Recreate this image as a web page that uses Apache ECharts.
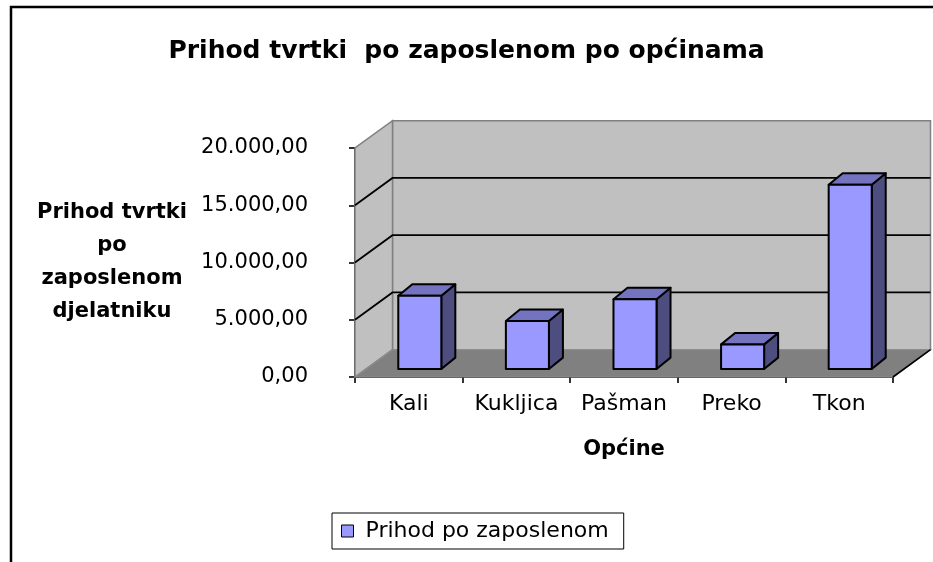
<!DOCTYPE html>
<html>
<head>
<meta charset="utf-8">
<script src="https://cdn.jsdelivr.net/npm/echarts@6/dist/echarts.min.js"></script>
<style>
  html, body { margin: 0; padding: 0; background: #fff; }
  #chart { width: 933px; height: 562px; }
</style>
</head>
<body>
<div id="chart"></div>
<script>
const categories = ['Kali', 'Kukljica', 'Pašman', 'Preko', 'Tkon'];
const values = [6400, 4200, 6100, 2150, 16100];
const yTicks = [0, 5000, 10000, 15000, 20000];
const yTickLabels = ['0,00', '5.000,00', '10.000,00', '15.000,00', '20.000,00'];

const FONT = 'DejaVu Sans';
// oblique depth of the plot box and of the bars
const DX = 37.5, DY = -27.3;
const BAR_DX = 14, BAR_DY = -11.4;
const BAR_OFF_X = 11, BAR_OFF_Y = -8;

function renderFrame(params, api) {
  const bw = api.size([1, 0])[0];
  const left = api.coord([0, 0])[0] - bw / 2;
  const right = api.coord([categories.length - 1, 0])[0] + bw / 2;
  const y0 = api.coord([0, yTicks[0]])[1];
  const yTop = api.coord([0, yTicks[yTicks.length - 1]])[1];
  const kids = [];
  // back wall
  kids.push({
    type: 'polygon',
    shape: { points: [[left + DX, y0 + DY], [right + DX, y0 + DY], [right + DX, yTop + DY], [left + DX, yTop + DY]] },
    style: { fill: '#C0C0C0', stroke: '#808080', lineWidth: 1.5 }
  });
  // left wall
  kids.push({
    type: 'polygon',
    shape: { points: [[left, y0], [left + DX, y0 + DY], [left + DX, yTop + DY], [left, yTop]] },
    style: { fill: '#C0C0C0', stroke: '#808080', lineWidth: 1.5 }
  });
  // floor
  kids.push({
    type: 'polygon',
    shape: { points: [[left, y0], [right, y0], [right + DX, y0 + DY], [left + DX, y0 + DY]] },
    style: { fill: '#808080', stroke: '#8c8c8c', lineWidth: 1.2 }
  });
  kids.push({
    type: 'line',
    shape: { x1: right, y1: y0, x2: right + DX, y2: y0 + DY },
    style: { stroke: '#000', lineWidth: 1.6 }
  });
  // gridlines on side and back wall
  yTicks.slice(1, -1).forEach(function (t) {
    const y = api.coord([0, t])[1];
    kids.push({
      type: 'polyline',
      shape: { points: [[left, y], [left + DX, y + DY], [right + DX, y + DY]] },
      style: { stroke: '#000', lineWidth: 1.8, fill: null }
    });
  });
  return { type: 'group', children: kids };
}

function renderBar(params, api) {
  const i = api.value(0);
  const base = api.coord([i, 0]);
  const top = api.coord([i, api.value(1)]);
  const w = api.size([1, 0])[0] * 0.4;
  const x0 = base[0] - w / 2 + BAR_OFF_X;
  const x1 = x0 + w;
  const yb = base[1] + BAR_OFF_Y;
  const yt = top[1] + BAR_OFF_Y;
  const line = { stroke: '#000', lineWidth: 2, lineJoin: 'round' };
  return {
    type: 'group',
    children: [
      {
        type: 'polygon',
        shape: { points: [[x1, yt], [x1 + BAR_DX, yt + BAR_DY], [x1 + BAR_DX, yb + BAR_DY], [x1, yb]] },
        style: Object.assign({ fill: '#4D4D80' }, line)
      },
      {
        type: 'polygon',
        shape: { points: [[x0, yt], [x1, yt], [x1 + BAR_DX, yt + BAR_DY], [x0 + BAR_DX, yt + BAR_DY]] },
        style: Object.assign({ fill: '#7373BF' }, line)
      },
      {
        type: 'rect',
        shape: { x: x0, y: yt, width: w, height: yb - yt },
        style: Object.assign({ fill: '#9999FF' }, line)
      }
    ]
  };
}

const chart = echarts.init(document.getElementById('chart'));
chart.setOption({
  animation: false,
  backgroundColor: '#fff',
  graphic: [{
    type: 'rect',
    z: -10,
    shape: { x: 11, y: 7, width: 1000, height: 1000 },
    style: { fill: 'none', stroke: '#000', lineWidth: 2.5 }
  }],
  title: {
    text: 'Prihod tvrtki  po zaposlenom po općinama',
    left: 'center',
    top: 34,
    textStyle: { fontFamily: FONT, fontWeight: 'bold', fontSize: 25, color: '#000' }
  },
  legend: {
    left: 332,
    top: 513,
    data: [{ name: 'Prihod po zaposlenom', icon: 'rect' }],
    itemWidth: 12,
    itemHeight: 12,
    borderColor: '#000',
    borderWidth: 1,
    padding: [7, 15, 7, 9],
    itemStyle: { borderColor: '#000', borderWidth: 1 },
    textStyle: { fontFamily: FONT, fontSize: 22, color: '#000', padding: [0, 0, 0, 7] }
  },
  grid: { left: 355, right: 40, top: 148, bottom: 185 },
  xAxis: {
    type: 'category',
    data: categories,
    name: 'Općine',
    nameLocation: 'middle',
    nameGap: 73,
    nameTextStyle: { fontFamily: FONT, fontWeight: 'bold', fontSize: 21, color: '#000', verticalAlign: 'middle' },
    axisLine: { lineStyle: { color: '#000', width: 1.6 } },
    axisTick: { show: true, length: 6, interval: 0, lineStyle: { color: '#000', width: 1.6 } },
    axisLabel: { interval: 0, hideOverlap: false, margin: 27, verticalAlign: 'middle', fontFamily: FONT, fontSize: 22, color: '#000' },
    splitLine: { show: false }
  },
  yAxis: {
    type: 'value',
    min: 0,
    max: 20000,
    interval: 5000,
    name: 'Prihod tvrtki\npo\nzaposlenom\ndjelatniku',
    nameLocation: 'middle',
    nameRotate: 0,
    nameGap: 243,
    nameTextStyle: { fontFamily: FONT, fontWeight: 'bold', fontSize: 21, lineHeight: 33, color: '#000', align: 'center', verticalAlign: 'middle' },
    axisLine: { show: true, lineStyle: { color: '#000', width: 1.6 } },
    axisTick: { show: true, length: 6, lineStyle: { color: '#000', width: 1.6 } },
    axisLabel: {
      margin: 47,
      fontFamily: FONT,
      fontSize: 21,
      color: '#000',
      formatter: function (v) { return yTickLabels[yTicks.indexOf(v)]; }
    },
    splitLine: { show: false }
  },
  series: [
    {
      name: 'frame',
      type: 'custom',
      z: 1,
      silent: true,
      clip: false,
      renderItem: renderFrame,
      data: [[0, 0]]
    },
    {
      name: 'Prihod po zaposlenom',
      type: 'custom',
      z: 3,
      clip: false,
      itemStyle: { color: '#9999FF' },
      renderItem: renderBar,
      encode: { x: 0, y: 1 },
      data: values.map(function (v, i) { return [i, v]; })
    }
  ]
});
</script>
</body>
</html>
